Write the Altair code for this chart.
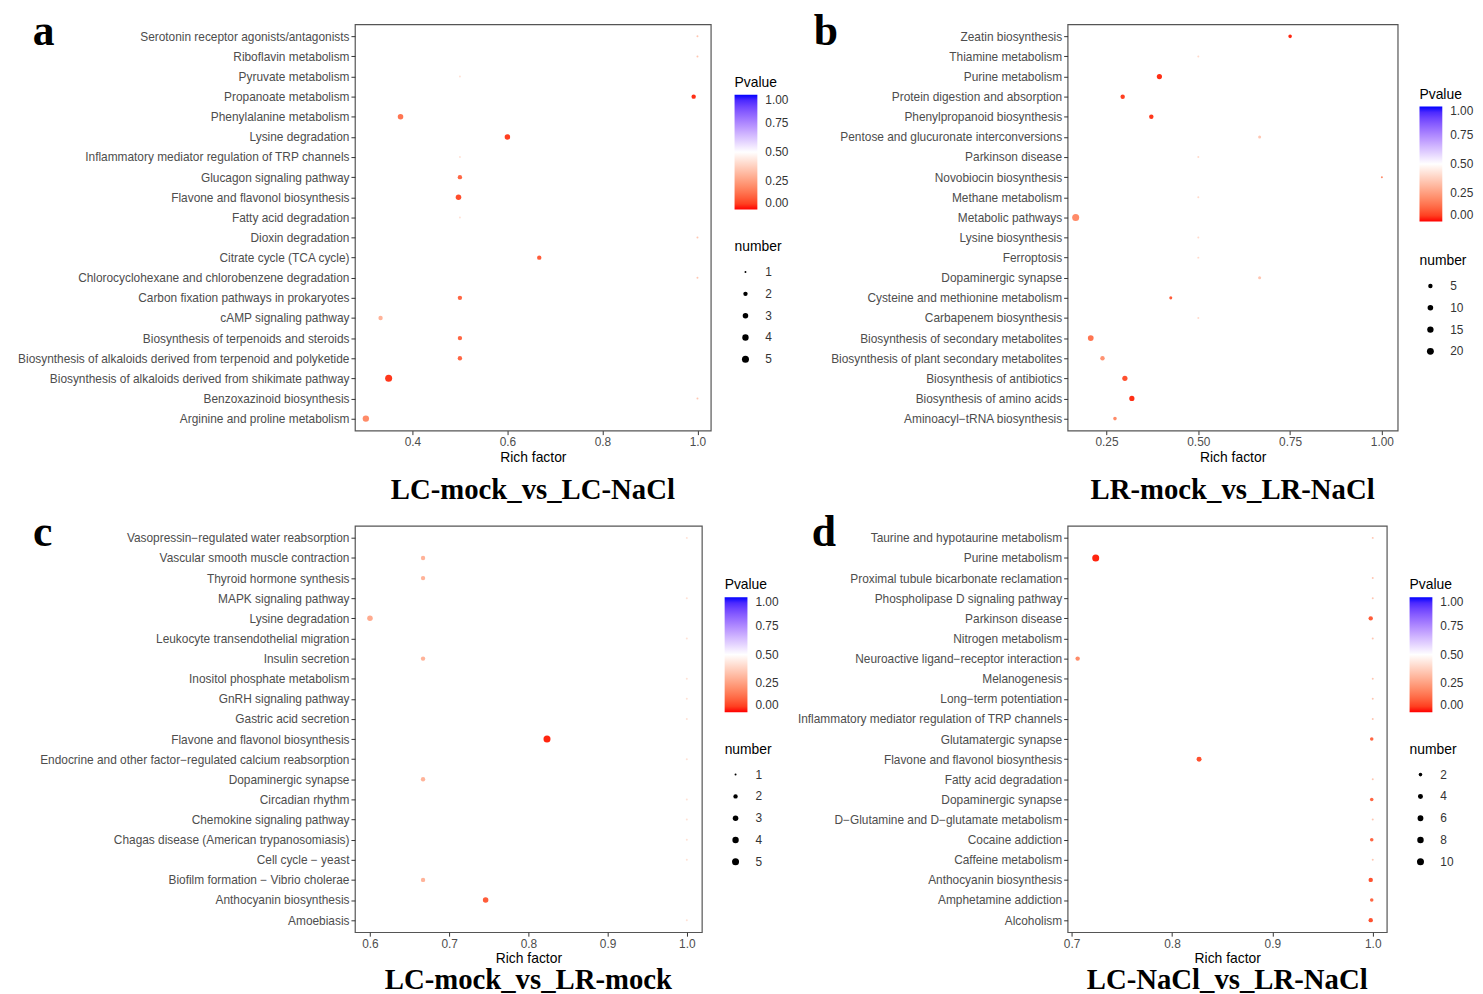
import altair as alt
import pandas as pd

# ---------------- Panel a : LC-mock_vs_LC-NaCl ----------------
a_pathways = [
    "Serotonin receptor agonists/antagonists", "Riboflavin metabolism", "Pyruvate metabolism",
    "Propanoate metabolism", "Phenylalanine metabolism", "Lysine degradation",
    "Inflammatory mediator regulation of TRP channels", "Glucagon signaling pathway",
    "Flavone and flavonol biosynthesis", "Fatty acid degradation", "Dioxin degradation",
    "Citrate cycle (TCA cycle)", "Chlorocyclohexane and chlorobenzene degradation",
    "Carbon fixation pathways in prokaryotes", "cAMP signaling pathway",
    "Biosynthesis of terpenoids and steroids",
    "Biosynthesis of alkaloids derived from terpenoid and polyketide",
    "Biosynthesis of alkaloids derived from shikimate pathway", "Benzoxazinoid biosynthesis",
    "Arginine and proline metabolism"]
a_rich = [1.0, 1.0, 0.5, 0.992, 0.375, 0.6, 0.5, 0.5, 0.497, 0.5, 1.0, 0.667, 1.0, 0.5, 0.333,
          0.5, 0.5, 0.35, 1.0, 0.302]
a_number = [1, 1, 1, 2, 3, 3, 1, 2, 3, 1, 1, 2, 1, 2, 2, 2, 2, 5, 1, 4]
a_pvalue = [0.35, 0.35, 0.42, 0.03, 0.15, 0.05, 0.42, 0.12, 0.07, 0.42, 0.35, 0.1, 0.35, 0.12,
            0.3, 0.12, 0.12, 0.04, 0.35, 0.2]

# ---------------- Panel b : LR-mock_vs_LR-NaCl ----------------
b_pathways = [
    "Zeatin biosynthesis", "Thiamine metabolism", "Purine metabolism",
    "Protein digestion and absorption", "Phenylpropanoid biosynthesis",
    "Pentose and glucuronate interconversions", "Parkinson disease", "Novobiocin biosynthesis",
    "Methane metabolism", "Metabolic pathways", "Lysine biosynthesis", "Ferroptosis",
    "Dopaminergic synapse", "Cysteine and methionine metabolism", "Carbapenem biosynthesis",
    "Biosynthesis of secondary metabolites", "Biosynthesis of plant secondary metabolites",
    "Biosynthesis of antibiotics", "Biosynthesis of amino acids", "Aminoacyl\u2212tRNA biosynthesis"]
b_rich = [0.75, 0.5, 0.394, 0.294, 0.372, 0.667, 0.5, 1.0, 0.5, 0.166, 0.5, 0.5, 0.667, 0.425,
          0.5, 0.207, 0.239, 0.3, 0.319, 0.273]
b_number = [3, 1, 8, 5, 5, 2, 1, 1, 1, 21, 1, 1, 2, 2, 1, 11, 5, 8, 8, 3]
b_pvalue = [0.02, 0.4, 0.03, 0.05, 0.04, 0.35, 0.4, 0.2, 0.4, 0.2, 0.4, 0.4, 0.35, 0.1, 0.4,
            0.15, 0.22, 0.08, 0.03, 0.2]

# ---------------- Panel c : LC-mock_vs_LR-mock ----------------
c_pathways = [
    "Vasopressin\u2212regulated water reabsorption", "Vascular smooth muscle contraction",
    "Thyroid hormone synthesis", "MAPK signaling pathway", "Lysine degradation",
    "Leukocyte transendothelial migration", "Insulin secretion", "Inositol phosphate metabolism",
    "GnRH signaling pathway", "Gastric acid secretion", "Flavone and flavonol biosynthesis",
    "Endocrine and other factor\u2212regulated calcium reabsorption", "Dopaminergic synapse",
    "Circadian rhythm", "Chemokine signaling pathway", "Chagas disease (American trypanosomiasis)",
    "Cell cycle \u2212 yeast", "Biofilm formation \u2212 Vibrio cholerae", "Anthocyanin biosynthesis",
    "Amoebiasis"]
c_rich = [1.0, 0.667, 0.667, 1.0, 0.6, 1.0, 0.667, 1.0, 1.0, 1.0, 0.8235, 1.0, 0.667, 1.0, 1.0,
          1.0, 1.0, 0.667, 0.746, 1.0]
c_number = [1, 2, 2, 1, 3, 1, 2, 1, 1, 1, 5, 1, 2, 1, 1, 1, 1, 2, 3, 1]
c_pvalue = [0.42, 0.3, 0.3, 0.42, 0.28, 0.42, 0.3, 0.42, 0.42, 0.42, 0.02, 0.42, 0.3, 0.42, 0.42,
            0.42, 0.42, 0.3, 0.1, 0.42]

# ---------------- Panel d : LC-NaCl_vs_LR-NaCl ----------------
d_pathways = [
    "Taurine and hypotaurine metabolism", "Purine metabolism",
    "Proximal tubule bicarbonate reclamation", "Phospholipase D signaling pathway",
    "Parkinson disease", "Nitrogen metabolism", "Neuroactive ligand\u2212receptor interaction",
    "Melanogenesis", "Long\u2212term potentiation", "Inflammatory mediator regulation of TRP channels",
    "Glutamatergic synapse", "Flavone and flavonol biosynthesis", "Fatty acid degradation",
    "Dopaminergic synapse", "D\u2212Glutamine and D\u2212glutamate metabolism", "Cocaine addiction",
    "Caffeine metabolism", "Anthocyanin biosynthesis", "Amphetamine addiction", "Alcoholism"]
d_rich = [1.0, 0.724, 1.0, 1.0, 0.998, 1.0, 0.706, 1.0, 1.0, 1.0, 0.999, 0.827, 1.0, 0.999, 1.0,
          0.999, 1.0, 0.998, 0.999, 0.998]
d_number = [1, 10, 1, 1, 3, 1, 3, 1, 1, 1, 2, 4, 1, 2, 1, 2, 1, 3, 2, 3]
d_pvalue = [0.35, 0.02, 0.35, 0.35, 0.1, 0.35, 0.2, 0.35, 0.35, 0.35, 0.12, 0.08, 0.35, 0.12,
            0.35, 0.12, 0.35, 0.08, 0.12, 0.08]

LABEL_FONT = "Liberation Sans"
TITLE_FONT = "Liberation Serif"


def panel(pathways, rich, number, pvalue, domain, ticks, fmt, size_vals, title, letter,
          width, height, lx, ly, leg_x, leg_y1, leg_y2, title_offset):
    df = pd.DataFrame({"pathway": pathways, "rich": rich, "number": number, "pvalue": pvalue})
    pts = alt.Chart(df).mark_circle(opacity=1).encode(
        x=alt.X("rich:Q", title="Rich factor",
                scale=alt.Scale(domain=domain, nice=False, zero=False),
                axis=alt.Axis(values=ticks, format=fmt, titlePadding=3)),
        y=alt.Y("pathway:N", sort=pathways, title=None,
                scale=alt.Scale(type="point", padding=0.6),
                axis=alt.Axis(labelLimit=500)),
        color=alt.Color("pvalue:Q", title="Pvalue",
                        scale=alt.Scale(domain=[0, 0.5, 1], range=["#ff0000", "#ffffff", "#0000ff"],
                                        interpolate="lab"),
                        legend=alt.Legend(orient="none", legendX=leg_x, legendY=leg_y1,
                                          direction="vertical", gradientLength=116,
                                          gradientThickness=23, gradientStrokeWidth=0,
                                          values=[0, 0.25, 0.5, 0.75, 1], format=".2f",
                                          titlePadding=5, labelOffset=8)),
        size=alt.Size("number:Q", title="number",
                      scale=alt.Scale(type="pow", exponent=0.5, range=[4, 50], zero=False),
                      legend=alt.Legend(orient="none", legendX=leg_x, legendY=leg_y2,
                                        values=size_vals, symbolFillColor="black",
                                        symbolStrokeWidth=0, symbolType="circle",
                                        titlePadding=12, rowPadding=10, symbolOffset=5,
                                        labelOffset=14)),
        order=alt.Order("number:Q"),
    )
    let = alt.Chart(pd.DataFrame({"lab": [letter]})).mark_text(
        font=TITLE_FONT, fontWeight="bold", fontSize=44, align="center",
        baseline="alphabetic", color="black").encode(
        text="lab:N", x=alt.value(lx), y=alt.value(ly))
    return alt.layer(pts, let).properties(
        width=width, height=height,
        title=alt.TitleParams(title, orient="bottom", anchor="middle", frame="group",
                              font=TITLE_FONT, fontSize=29, fontWeight="bold", color="black",
                              offset=title_offset))


pa = panel(a_pathways, a_rich, a_number, a_pvalue, [0.279, 1.028], [0.4, 0.6, 0.8, 1.0], ".1f",
           [1, 2, 3, 4, 5], "LC-mock_vs_LC-NaCl", "a", 359, 410, -314, 21, 383, 52, 218, 12)
pb = panel(b_pathways, b_rich, b_number, b_pvalue, [0.144, 1.043], [0.25, 0.5, 0.75, 1.0], ".2f",
           [5, 10, 15, 20], "LR-mock_vs_LR-NaCl", "b", 333, 410, -244, 21, 355, 64, 232, 12)
pc = panel(c_pathways, c_rich, c_number, c_pvalue, [0.581, 1.019], [0.6, 0.7, 0.8, 0.9, 1.0], ".1f",
           [1, 2, 3, 4, 5], "LC-mock_vs_LR-mock", "c", 350, 410, -315, 20, 373, 53, 219, 0)
pd_ = panel(d_pathways, d_rich, d_number, d_pvalue, [0.696, 1.014], [0.7, 0.8, 0.9, 1.0], ".1f",
            [2, 4, 6, 8, 10], "LC-NaCl_vs_LR-NaCl", "d", 322, 410, -246, 20, 345, 53, 219, 0)

chart = alt.concat(pa, pb, pc, pd_, columns=2, align="each",
                   spacing={"row": 4, "column": 5}).resolve_scale(
    x="independent", y="independent", color="independent", size="independent"
).resolve_legend(color="independent", size="independent").properties(
    padding={"left": 8, "top": -3, "right": 0, "bottom": 0}
).configure_view(
    stroke="#555555", strokeWidth=1.2
).configure_axis(
    labelFont=LABEL_FONT, labelFontSize=12, labelColor="#4d4d4d",
    tickColor="#333333", tickSize=4, tickWidth=1, domain=False, grid=False, labelPadding=2,
    titleFont=LABEL_FONT, titleFontSize=14, titleFontWeight="normal", titleColor="#000000"
).configure_legend(
    titleFont=LABEL_FONT, titleFontSize=14, titleFontWeight="normal", titleColor="#000000",
    labelFont=LABEL_FONT, labelFontSize=12, labelColor="#333333"
)

chart.save("out.html", embed_options={"renderer": "svg", "actions": False})
